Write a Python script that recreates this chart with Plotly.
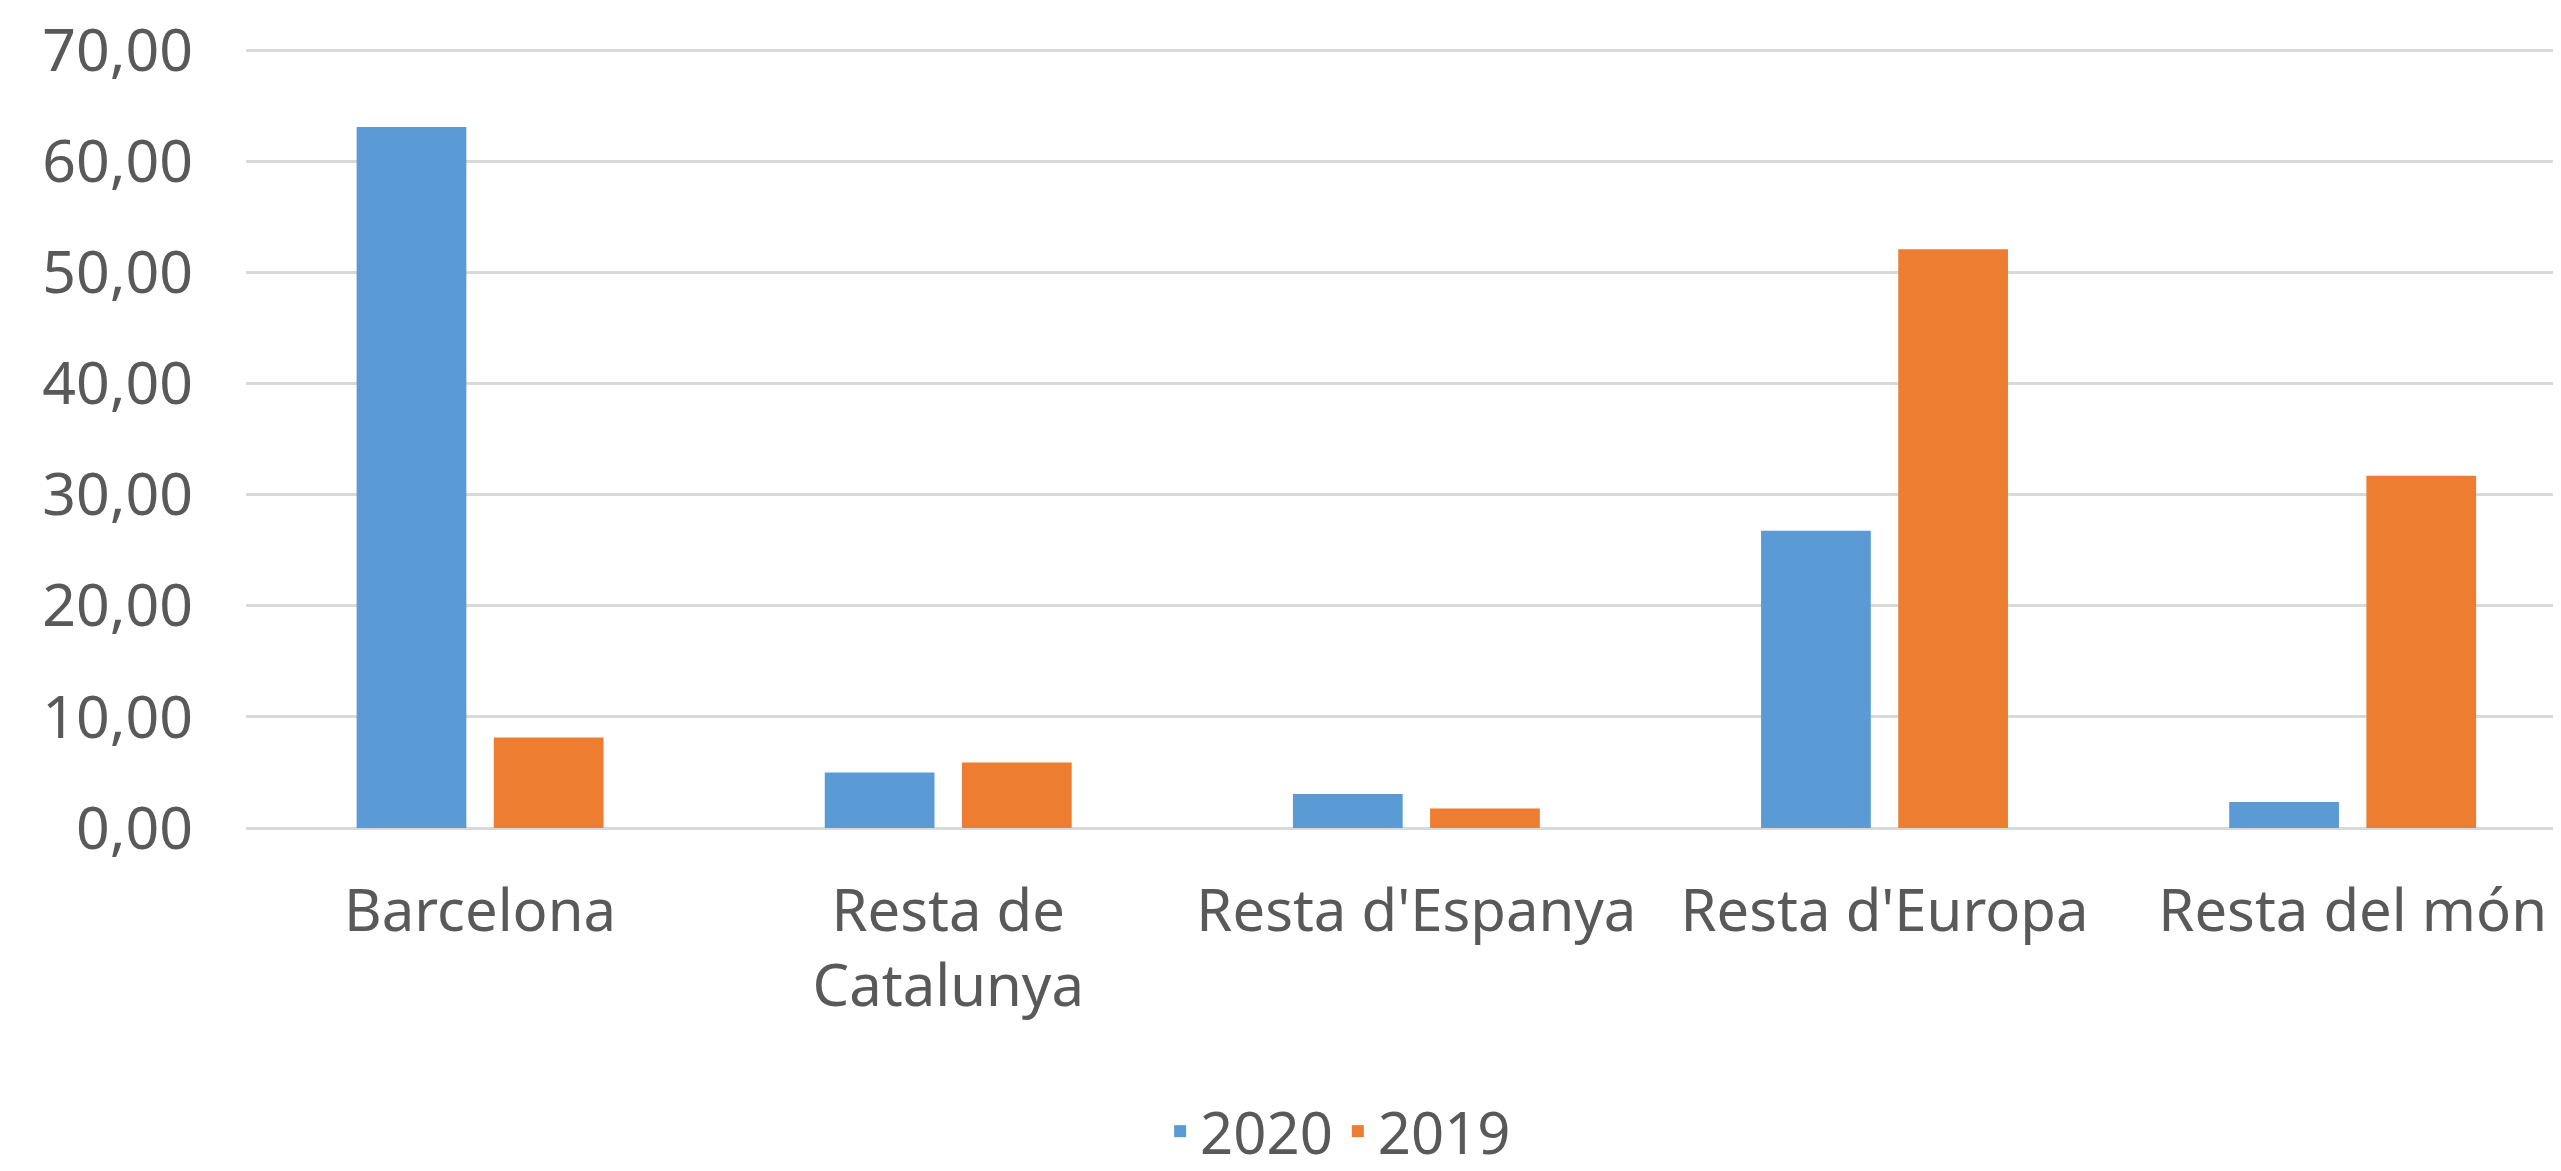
import plotly.graph_objects as go

categories = ["Barcelona", "Resta de<br>Catalunya", "Resta d'Espanya", "Resta d'Europa", "Resta del món"]
values_2020 = [63.1, 5.0, 3.05, 26.75, 2.35]
values_2019 = [8.15, 5.9, 1.75, 52.1, 31.7]
series_names = ["2020", "2019"]
y_ticks = [0, 10, 20, 30, 40, 50, 60, 70]

BLUE = "#5B9BD5"
ORANGE = "#ED7D31"
TEXT = "#595959"
GRID = "#D9D9D9"
FONT = "Noto Sans"

fig = go.Figure()
fig.add_trace(go.Bar(x=categories, y=values_2020, name=series_names[0], marker_color=BLUE,
                     marker_line_width=0))
fig.add_trace(go.Bar(x=categories, y=values_2019, name=series_names[1], marker_color=ORANGE,
                     marker_line_width=0))

# the page body has an 8px default margin, so the figure is offset by 8px
fig.update_layout(
    width=2553, height=1163,
    paper_bgcolor="white", plot_bgcolor="white",
    barmode="group", bargap=0.414, bargroupgap=0.2,
    separators=",.",
    margin=dict(l=238, r=0, t=35, b=343),
    font=dict(family=FONT, size=58, color=TEXT),
    showlegend=True,
    legend=dict(orientation="h", xref="container", yref="container",
                x=0.521, xanchor="center", y=0.034, yanchor="middle",
                font=dict(family=FONT, size=58, color=TEXT),
                itemwidth=30, bgcolor="rgba(0,0,0,0)"),
)
fig.update_xaxes(
    range=[-0.5, 4.445], showgrid=False, showline=False, zeroline=False,
    ticks="", tickangle=0, ticklabelstandoff=44,
    tickfont=dict(family=FONT, size=58, color=TEXT),
)
fig.update_yaxes(
    range=[0, 70.3], tickvals=y_ticks, tickformat=".2f",
    showgrid=True, gridcolor=GRID, gridwidth=3,
    zeroline=True, zerolinecolor=GRID, zerolinewidth=3,
    showline=False, ticks="", ticklabelstandoff=52,
    ticklabeloverflow="allow",
    tickfont=dict(family=FONT, size=59, color=TEXT),
)

fig.write_html("out.html")
